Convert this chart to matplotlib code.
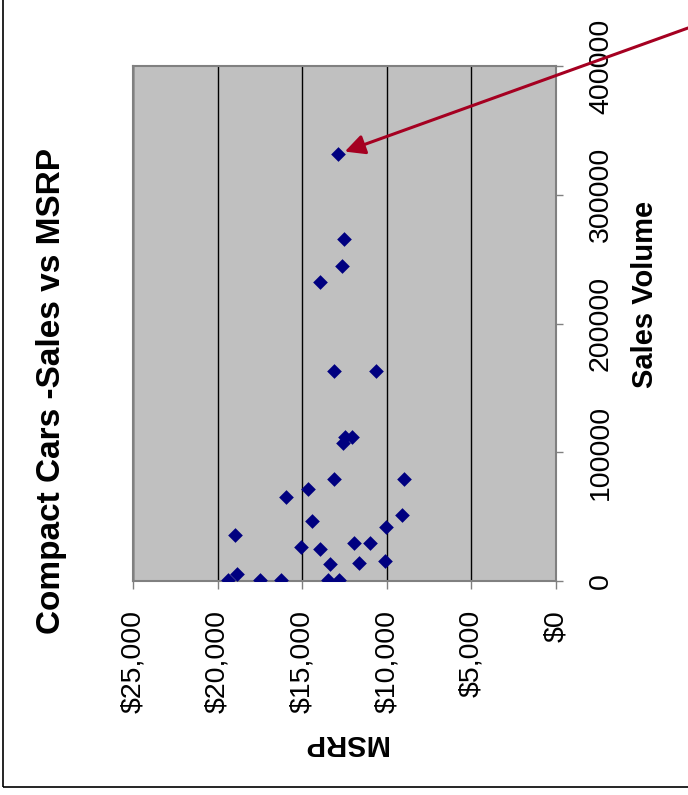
import numpy as np
import matplotlib
matplotlib.use("Agg")
import matplotlib.pyplot as plt
from matplotlib.patches import Rectangle

plt.rcParams['font.family'] = ['Liberation Sans', 'DejaVu Sans']

# -----------------------------
# data
# -----------------------------
msrp = [19360, 18860, 19000, 17470, 16280, 15930, 15100, 14640, 14410, 13930,
        13340, 13460, 12830, 13120, 12560, 12500, 12040, 11920, 11670, 10980,
        10130, 10030, 9080, 8960, 12870, 12510, 12630, 13930, 13110, 10620]
sales = [500, 5400, 36000, 800, 800, 65500, 26600, 71500, 46800, 24900,
         13000, 500, 500, 79200, 107000, 112100, 112100, 29800, 14000, 29800,
         15800, 42200, 51500, 79200, 331700, 265400, 244900, 232500, 163300, 163300]

x_ticks = [25000, 20000, 15000, 10000, 5000, 0]
x_labels = ["$25,000", "$20,000", "$15,000", "$10,000", "$5,000", "$0"]
y_ticks = [0, 100000, 200000, 300000, 400000]
y_labels = ["0", "100000", "200000", "300000", "400000"]

fig = plt.figure(figsize=(6.88, 7.95), dpi=100)
ax = fig.add_axes([133 / 688, 1 - 581 / 795, 423 / 688, 515 / 795])

ax.set_facecolor("#C0C0C0")
ax.scatter(msrp, sales, marker="D", s=56, color="#000080", zorder=3, linewidths=0)

ax.set_xlim(25000, 0)
ax.set_ylim(0, 400000)

ax.set_xticks(x_ticks)
ax.set_xticklabels(x_labels, rotation=90, fontsize=20.5)
ax.yaxis.tick_right()
ax.set_yticks(y_ticks)
ax.set_yticklabels(y_labels, rotation=90, fontsize=20.5, va="center")

ax.tick_params(axis="x", length=6, width=1, color="#808080", pad=15)
ax.tick_params(axis="y", length=5, width=1, color="#808080", pad=18)

ax.grid(axis="x", color="black", linewidth=1)
ax.set_axisbelow(True)
for sp in ax.spines.values():
    sp.set_color("#808080")
    sp.set_linewidth(1.5)

# -----------------------------
# titles (chart is turned on its side)
# -----------------------------
fig.text(52 / 688, 1 - 391 / 795, "Compact Cars -Sales vs MSRP", rotation=90,
         fontsize=24, fontweight="bold", ha="center", va="center")
fig.text(645 / 688, 1 - 294 / 795, "Sales Volume", rotation=90,
         fontsize=21, fontweight="bold", ha="center", va="center")
fig.text(344.5 / 688, 1 - 743 / 795, "MSRP", rotation=180,
         fontsize=21, fontweight="bold", ha="center", va="center")

# arrow to the best seller
i_max = int(np.argmax(sales))
ax.annotate("", xy=(msrp[i_max], sales[i_max]),
            xytext=(1.0, 1 - 28 / 795), textcoords="figure fraction",
            arrowprops=dict(arrowstyle="-|>,head_length=0.6,head_width=0.3",
                            color="#A50021", lw=2.2, mutation_scale=20,
                            shrinkA=0, shrinkB=5),
            annotation_clip=False, zorder=5)

# outer frame
fig.patches.append(Rectangle((3 / 688, 8 / 795), 1.2, 1.2, transform=fig.transFigure,
                             fill=False, edgecolor="black", linewidth=1.2))

fig.savefig("out.png", dpi=100)
